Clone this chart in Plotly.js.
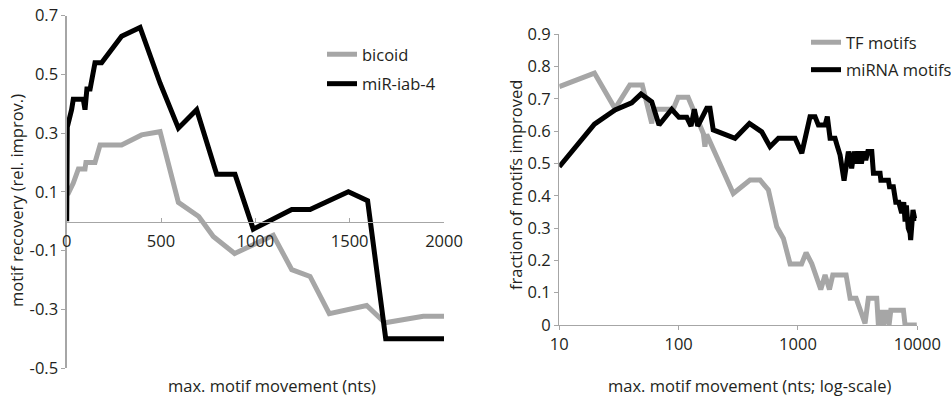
<!DOCTYPE html>
<html>
<head>
<meta charset="utf-8">
<script src="https://cdn.plot.ly/plotly-3.0.1.min.js"></script>
<style>html,body{margin:0;padding:0;background:#fff;}#chart{width:951px;height:403px;}</style>
</head>
<body>
<div id="chart"></div>
<script>
// ---- Left panel data ----
const bicoidX = [5, 35, 62, 97, 102, 150, 177, 291, 397, 495, 592, 700, 777, 890, 989, 1095, 1193, 1290, 1392, 1590, 1687, 1890, 2000];
const bicoidY = [0.09, 0.13, 0.178, 0.178, 0.20, 0.20, 0.26, 0.26, 0.294, 0.305, 0.064, 0.016, -0.052, -0.11, -0.08, -0.048, -0.165, -0.188, -0.315, -0.287, -0.346, -0.324, -0.324];
const mirX = [0, 3, 26, 35, 88, 97, 107, 124, 150, 185, 291, 389, 495, 592, 689, 795, 892, 989, 1193, 1290, 1493, 1595, 1691, 2000];
const mirY = [0, 0.32, 0.38, 0.415, 0.415, 0.38, 0.45, 0.45, 0.54, 0.54, 0.63, 0.66, 0.47, 0.317, 0.38, 0.16, 0.16, -0.027, 0.04, 0.04, 0.10, 0.07, -0.40, -0.40];
const leftYTicks = [0.7, 0.5, 0.3, 0.1, -0.1, -0.3, -0.5];
const leftYLabels = ["0.7", "0.5", "0.3", "0.1", "-0.1", "-0.3", "-0.5"];
const leftXTicks = [0, 500, 1000, 1500, 2000];

// ---- Right panel data ----
const tfX = [10, 19.7, 29.3, 39, 49.6, 59.5, 62, 90, 99, 120, 161, 166, 172, 287, 396, 481, 565, 664, 755, 859, 1072, 1170, 1306, 1553, 1687, 1836, 1958, 2531, 2735, 3069, 3648, 3890, 4570, 4720, 5000, 5200, 5500, 5800, 6000, 7650, 7900, 9900];
const tfY = [0.738, 0.78, 0.67, 0.743, 0.743, 0.624, 0.668, 0.668, 0.705, 0.705, 0.593, 0.552, 0.59, 0.407, 0.449, 0.449, 0.418, 0.304, 0.268, 0.189, 0.189, 0.224, 0.19, 0.11, 0.155, 0.11, 0.155, 0.155, 0.083, 0.083, 0.005, 0.083, 0.083, 0, 0.046, 0, 0.046, 0, 0.046, 0.046, 0, 0];
const mirnaX = [10, 19.7, 29.3, 40.4, 48.4, 59.5, 68.5, 87.5, 100.7, 117, 127, 135.5, 144.5, 160, 172, 183, 195, 297, 392, 497, 583, 686, 946, 1077, 1262, 1390, 1483, 1687, 1762, 1858, 2044, 2124, 2253, 2434, 2644, 2818, 2950, 3100, 3250, 3400, 3550, 3700, 3850, 4155, 4290, 4875, 4950, 5730, 5850, 6300, 6600, 7000, 7400, 7700, 7900, 8100, 8400, 8700, 8800, 9200, 9500, 9800];
const mirnaY = [0.49, 0.622, 0.666, 0.688, 0.715, 0.691, 0.619, 0.668, 0.643, 0.643, 0.616, 0.668, 0.616, 0.645, 0.671, 0.671, 0.604, 0.578, 0.624, 0.598, 0.552, 0.578, 0.578, 0.532, 0.645, 0.645, 0.619, 0.619, 0.645, 0.578, 0.578, 0.557, 0.526, 0.447, 0.537, 0.485, 0.537, 0.50, 0.537, 0.50, 0.537, 0.51, 0.537, 0.537, 0.47, 0.47, 0.448, 0.448, 0.428, 0.428, 0.38, 0.38, 0.346, 0.38, 0.32, 0.37, 0.30, 0.284, 0.263, 0.356, 0.33, 0.33];
const rightYTicks = [0, 0.1, 0.2, 0.3, 0.4, 0.5, 0.6, 0.7, 0.8, 0.9];
const rightYLabels = ["0", "0.1", "0.2", "0.3", "0.4", "0.5", "0.6", "0.7", "0.8", "0.9"];
const rightXTicks = [10, 100, 1000, 10000];
const rightXLabels = ["10", "100", "1000", "10000"];

const GRAY = '#a6a6a6';
const AXIS = '#a6a6a6';
const TXT = '#231f20';
const FONT = 'Open Sans, sans-serif';
const FS = 16.5;

const traces = [
  {x: bicoidX, y: bicoidY, name: 'bicoid', mode: 'lines', line: {color: GRAY, width: 5}, xaxis: 'x', yaxis: 'y', legend: 'legend', legendgroup: 'a'},
  {x: mirX, y: mirY, name: 'miR-iab-4', mode: 'lines', line: {color: '#000', width: 5}, xaxis: 'x', yaxis: 'y', legend: 'legend', legendgroup: 'b'},
  {x: tfX, y: tfY, name: 'TF motifs', mode: 'lines', line: {color: GRAY, width: 5}, xaxis: 'x2', yaxis: 'y2', legend: 'legend2', legendgroup: 'c'},
  {x: mirnaX, y: mirnaY, name: 'miRNA motifs', mode: 'lines', line: {color: '#000', width: 5}, xaxis: 'x2', yaxis: 'y2', legend: 'legend2', legendgroup: 'd'}
];

const H = 403, W = 951;
const fy = px => 1 - px / H;
const fx = px => px / W;

const layout = {
  width: W, height: H,
  margin: {l: 0, r: 0, t: 0, b: 0, autoexpand: false},
  paper_bgcolor: '#fff', plot_bgcolor: 'rgba(0,0,0,0)',
  font: {family: FONT, size: FS, color: TXT},
  showlegend: true,
  xaxis: {
    domain: [fx(66.7), fx(444)], range: [0, 2000],
    anchor: 'free', position: fy(221.5),
    tickmode: 'array', tickvals: leftXTicks, ticktext: leftXTicks.map(String),
    ticks: 'inside', ticklen: 4, tickcolor: AXIS, ticklabelstandoff: 4,
    showline: true, linecolor: AXIS, linewidth: 1.3,
    showgrid: false, zeroline: false,
    tickfont: {size: FS, color: TXT}
  },
  yaxis: {
    domain: [fy(368), fy(15.7)], range: [-0.5, 0.7],
    anchor: 'x',
    tickmode: 'array', tickvals: leftYTicks, ticktext: leftYLabels,
    ticks: 'outside', ticklen: 4, tickcolor: AXIS,
    showline: true, linecolor: AXIS, linewidth: 1.3,
    showgrid: false, zeroline: false,
    tickfont: {size: FS, color: TXT}
  },
  xaxis2: {
    domain: [fx(559.3), fx(917.3)], type: 'log', range: [1, 4],
    anchor: 'y2',
    tickmode: 'array', tickvals: rightXTicks, ticktext: rightXLabels,
    ticks: 'outside', ticklen: 4, tickcolor: AXIS,
    showline: true, linecolor: AXIS, linewidth: 1.3,
    showgrid: false, zeroline: false,
    tickfont: {size: FS, color: TXT}
  },
  yaxis2: {
    domain: [fy(325), fy(34.3)], range: [0, 0.9],
    anchor: 'x2',
    tickmode: 'array', tickvals: rightYTicks, ticktext: rightYLabels,
    ticks: 'outside', ticklen: 4, tickcolor: AXIS,
    showline: true, linecolor: AXIS, linewidth: 1.3,
    showgrid: false, zeroline: false,
    tickfont: {size: FS, color: TXT}
  },
  legend: {
    x: fx(322), y: fy(37), xanchor: 'left', yanchor: 'top',
    bgcolor: 'rgba(0,0,0,0)', font: {size: FS, color: TXT},
    tracegroupgap: 5, itemwidth: 30
  },
  legend2: {
    x: fx(806), y: fy(25), xanchor: 'left', yanchor: 'top',
    bgcolor: 'rgba(0,0,0,0)', font: {size: FS, color: TXT},
    tracegroupgap: 3, itemwidth: 30
  },
  annotations: [
    {text: 'max. motif movement (nts)', xref: 'paper', yref: 'paper', x: fx(272), y: fy(385),
     xanchor: 'center', yanchor: 'middle', showarrow: false, font: {size: FS, color: TXT}},
    {text: 'max. motif movement (nts; log-scale)', xref: 'paper', yref: 'paper', x: fx(749), y: fy(385),
     xanchor: 'center', yanchor: 'middle', showarrow: false, font: {size: FS, color: TXT}},
    {text: 'motif recovery (rel. improv.)', xref: 'paper', yref: 'paper', x: fx(17), y: fy(201),
     xanchor: 'center', yanchor: 'middle', textangle: -90, showarrow: false, font: {size: FS, color: TXT}},
    {text: 'fraction of motifs improved', xref: 'paper', yref: 'paper', x: fx(515), y: fy(185),
     xanchor: 'center', yanchor: 'middle', textangle: -90, showarrow: false, font: {size: FS, color: TXT}}
  ]
};

Plotly.newPlot('chart', traces, layout, {displayModeBar: false, staticPlot: true});
</script>
</body>
</html>
